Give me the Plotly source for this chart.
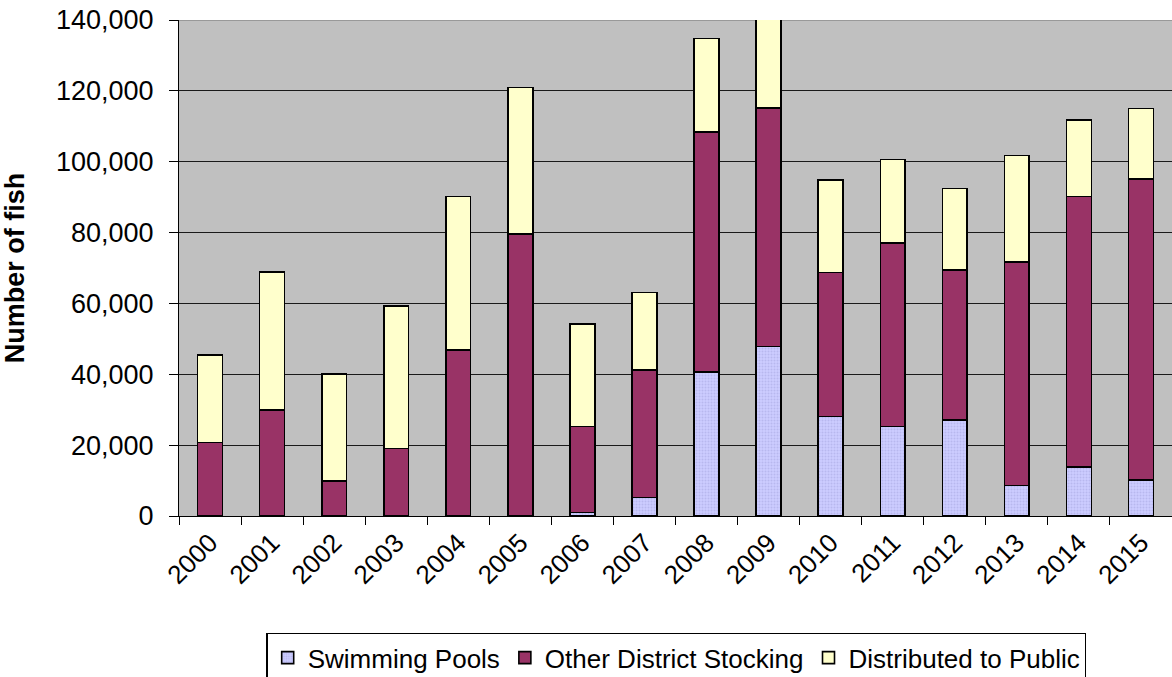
import plotly.graph_objects as go

years = ["2000", "2001", "2002", "2003", "2004", "2005", "2006", "2007",
         "2008", "2009", "2010", "2011", "2012", "2013", "2014", "2015"]
swimming_pools = [0, 0, 0, 0, 0, 0, 1000, 5200, 40600, 47900, 28100, 25300, 27100, 8600, 13800, 10200]
other_district = [20700, 30000, 9900, 19000, 46800, 79600, 24300, 36000, 67800, 67200, 40600, 51700, 42300, 63100, 76400, 85000]
distributed_public = [24800, 38800, 30200, 40300, 43400, 41400, 28900, 21900, 26400, 36000, 26100, 23600, 23000, 30000, 21600, 19800]

y_ticks = [0, 20000, 40000, 60000, 80000, 100000, 120000, 140000]
y_tick_text = ["0", "20,000", "40,000", "60,000", "80,000", "100,000", "120,000", "140,000"]

FONT = "Liberation Sans, Arial, sans-serif"
outline = dict(color="black", width=1.6)

fig = go.Figure()
fig.add_trace(go.Bar(
    x=years, y=swimming_pools, name="Swimming Pools",
    marker=dict(color="#CCCCFF", line=outline,
                pattern=dict(shape=".", bgcolor="#CCCCFF", fgcolor="#A3A3DD", size=3, solidity=0.35)),
))
fig.add_trace(go.Bar(
    x=years, y=other_district, name="Other District Stocking",
    marker=dict(color="#993366", line=outline),
))
fig.add_trace(go.Bar(
    x=years, y=distributed_public, name="Distributed to Public",
    marker=dict(color="#FFFFCC", line=outline),
))

fig.add_shape(type="line", xref="paper", yref="y", x0=0, x1=1, y0=140000, y1=140000,
              line=dict(color="#8C8C8C", width=1.5), layer="below")

fig.update_layout(
    width=1172, height=677,
    barmode="stack", bargap=0.6,
    paper_bgcolor="white", plot_bgcolor="#C0C0C0",
    margin=dict(l=179, r=0, t=20, b=161, autoexpand=False),
    font=dict(family=FONT, color="black", size=26),
    showlegend=True,
    legend=dict(
        orientation="h", x=0.501, xanchor="center", y=-0.236, yanchor="top",
        bgcolor="white", bordercolor="black", borderwidth=1.2,
        font=dict(family=FONT, size=26, color="black"),
        traceorder="normal", itemwidth=30,
    ),
    xaxis=dict(
        type="category", tickson="boundaries", ticks="outside", ticklen=8, tickcolor="black",
        tickwidth=1.2, showline=True, linecolor="black", linewidth=1.2, showgrid=False,
        tickangle=-45, tickfont=dict(family=FONT, size=26, color="black"), automargin=False,
    ),
    yaxis=dict(
        range=[0, 140000], tickvals=y_ticks, ticktext=y_tick_text,
        ticks="outside", ticklen=9, tickcolor="black", tickwidth=1.2,
        showline=True, linecolor="black", linewidth=1.2,
        showgrid=True, gridcolor="#1A1A1A", gridwidth=1, zeroline=False,
        tickfont=dict(family=FONT, size=27, color="black"), ticklabelstandoff=10,
        ticklabeloverflow="allow",
        title=dict(text="<b>Number of fish</b>", font=dict(family=FONT, size=27, color="black"), standoff=23),
        automargin=False,
    ),
)

fig.write_html("out.html", config={"displayModeBar": False},
               post_script="document.body.style.margin='0';")
